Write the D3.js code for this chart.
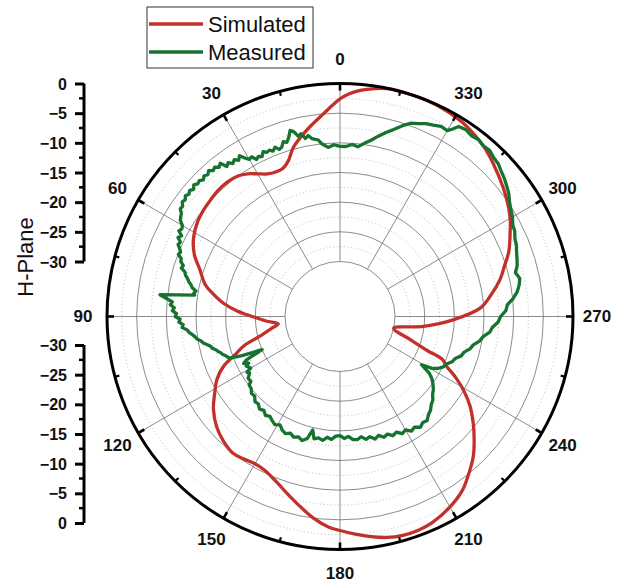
<!DOCTYPE html>
<html>
<head>
<meta charset="utf-8">
<script src="https://cdn.jsdelivr.net/npm/d3@7"></script>
<style>
  html, body { margin: 0; padding: 0; background: #ffffff; }
  svg { display: block; font-family: Arial, "Liberation Sans", Helvetica, sans-serif; }
</style>
</head>
<body>
<svg id="chart" width="623" height="583"></svg>
<script>
// ---------------- DATA ----------------
const angleTicks = [0, 30, 60, 90, 120, 150, 180, 210, 240, 270, 300, 330];
const dbTicks = [0, -5, -10, -15, -20, -25, -30];
const seriesNames = ["Simulated", "Measured"];

// Simulated: [angle (deg), gain (dB)]
const simulated = [
  [0,-2.6],[4.7,-5.0],[10.2,-7.4],[15.4,-9.7],[18.3,-11.6],[21,-12.5],[24,-12.6],[27,-12.3],
  [30,-11.5],[33,-10.6],[36,-10.0],[40,-9.7],[44,-9.7],[48,-9.9],[52,-10.1],[56,-10.4],
  [62,-11.3],[67,-12.6],[71.6,-14.4],[76.6,-15.9],[80,-17.6],[83.5,-19.5],[87,-22.0],[90,-24.5],
  [93.5,-26.8],[96.8,-28.8],[100,-27.5],[104,-25.2],[107,-22.3],[109.5,-20.8],[113.2,-17.9],
  [117,-16.0],[121.5,-14.5],[126,-12.9],[131.7,-11.4],[137,-10.5],[142,-10.0],[146,-10.3],
  [150,-10.6],[154,-10.4],[159,-9.4],[163.5,-8.1],[168,-6.6],[172.5,-5.0],[177,-3.7],[180,-3.2],
  [184,-2.5],[188,-1.8],[192,-1.2],[196,-0.9],[200,-0.9],[204,-1.2],[209.5,-2.1],[215,-3.4],
  [219,-4.9],[223.6,-6.7],[227.5,-8.6],[231.3,-10.5],[235.5,-12.7],[239.3,-15.1],[242.3,-17.3],
  [244.9,-19.4],[247.3,-20.6],[248.7,-23.5],[251.8,-26.8],[257.6,-30.0],[263.2,-25.1],
  [268.3,-20.2],[273.4,-15.6],[278,-13.6],[283,-11.6],[287,-10.3],[291,-8.8],[295.9,-7.4],
  [299.5,-6.3],[303,-5.4],[308.4,-4.2],[314.9,-2.8],[319.5,-1.8],[323.9,-1.1],[327.8,-0.6],
  [331.7,-0.3],[335.5,-0.1],[339.2,0],[343.4,0],[347.6,0],[351.3,-0.4],[354.9,-1.0],[357.6,-1.7]
];

// Measured: [angle (deg), gain (dB)]
const measured = [
  [0,-10.6],[2,-10.3],[4,-10.7],[6,-10.0],[7,-9.3],[9,-8.9],[10,-8.3],[11,-8.7],[12,-7.8],
  [13,-8.1],[14,-7.2],[15,-6.8],[16,-7.9],[17,-8.6],[18,-8.3],[19,-9.1],[20,-9.3],[21,-8.7],
  [22,-9.2],[23,-8.8],[24,-9.0],[25,-8.6],[26,-9.3],[27,-9.0],[28,-9.3],[29,-8.5],[30,-8.7],
  [31,-8.1],[32,-7.3],[33,-7.9],[34,-7.4],[35,-7.8],[36,-7.2],[37,-7.6],[38,-6.5],[39,-6.9],
  [40,-6.4],[41,-6.7],[42,-6.2],[43,-6.6],[44,-6.3],[45,-6.7],[46,-6.3],[47,-6.5],[48,-6.1],
  [49,-6.6],[50,-6.2],[51,-6.5],[52,-6.2],[53,-6.6],[54,-6.4],[55,-6.9],[56,-6.8],[57,-7.4],
  [58,-7.6],[59,-7.9],[60,-8.6],[61,-8.8],[62,-8.5],[63,-9.3],[64,-8.9],[65,-9.6],[66,-9.4],
  [67,-9.9],[68,-10.3],[69,-10.1],[70,-10.8],[71,-10.9],[72,-11.5],[73,-11.3],[74,-12.1],
  [75,-12.3],[76,-12.8],[77,-13.1],[78,-13.6],[79,-13.9],[80,-14.6],[81,-14.3],[81.6,-14.5],
  [83.1,-8.7],[84,-9.8],[85,-10.9],[86,-10.6],[87,-11.3],[88,-11.0],[89,-11.7],[90,-11.5],
  [91,-12.3],[92,-12.1],[93,-12.8],[94,-12.6],[95,-13.4],[96,-13.7],[97,-14.2],[98,-14.6],
  [99,-14.9],[100,-15.5],[101,-15.8],[102,-16.4],[103,-16.9],[104,-17.1],[105,-17.6],[106,-17.9],
  [107,-18.3],[108,-18.5],[109,-18.9],[110,-19.2],[110.7,-19.4],[111.8,-21.5],[113,-25.0],
  [114.9,-21.9],[116,-21.2],[117,-22.0],[118,-21.4],[120,-21.9],[121,-21.0],[122,-21.3],
  [124,-20.6],[126,-20.7],[127,-20.1],[129,-20.0],[131,-19.5],[133,-19.6],[135,-19.0],
  [137,-19.1],[139,-18.6],[141,-18.9],[143,-18.4],[145,-18.7],[147,-18.3],[149,-18.0],
  [151,-18.4],[153,-17.8],[155,-17.5],[157,-17.9],[159,-17.5],[161,-17.8],[163,-17.4],
  [165,-18.0],[166.5,-19.6],[168,-18.2],[170,-18.5],[172,-18.2],[174,-18.8],[176,-18.5],
  [178,-19.1],[180,-19.2],[182,-18.7],[184,-19.0],[186,-18.4],[188,-18.3],[190,-18.7],
  [192,-18.1],[194,-18.4],[196,-17.8],[198,-18.2],[200,-17.6],[202,-17.9],[204,-17.3],
  [206,-17.6],[208,-16.9],[210,-17.2],[212,-16.5],[214,-16.8],[216,-16.2],[218,-16.6],
  [220,-16.4],[222,-17.0],[224,-17.3],[226,-17.9],[228,-18.2],[230,-18.9],[232,-19.3],
  [234,-19.9],[236,-20.6],[237.5,-21.4],[239.4,-23.3],[240.5,-21.6],[242,-20.6],[244,-19.9],
  [246,-19.6],[248,-18.9],[250,-18.6],[252,-17.8],[254,-17.5],[256,-16.7],[258,-16.3],
  [260,-15.4],[262,-14.9],[264,-13.9],[266,-13.5],[268,-12.6],[270,-12.2],[272,-11.3],
  [274,-11.0],[276,-9.9],[278,-9.1],[280,-8.6],[282,-8.3],[284,-8.8],[286,-8.2],[288,-7.9],
  [290,-7.6],[292,-7.2],[294,-7.0],[296,-6.5],[298,-6.3],[300,-5.7],[302,-5.3],[304,-4.8],
  [306,-4.1],[308,-3.6],[310,-3.1],[312,-2.7],[314,-2.2],[316,-2.0],[318,-1.6],[320,-1.7],
  [322,-1.4],[324,-1.6],[326,-1.3],[328,-1.5],[329,-2.4],[330,-3.1],[332,-3.0],[334,-3.4],
  [336,-3.7],[338,-4.2],[340,-4.6],[342,-5.5],[344,-6.5],[346,-7.3],[348,-8.2],[350,-9.1],
  [352,-9.8],[354,-10.5],[356,-10.2],[358,-10.6]
];

// ---------------- LAYOUT ----------------
const svg = d3.select("#chart");
const cx = 340, cy = 316.5;
const R = 233, R0 = 55;
const red = "#c3302c", green = "#16722f";

const r = d3.scaleLinear().domain([-30, 0]).range([R0, R]).clamp(true);
const rad = a => a * Math.PI / 180;

const g = svg.append("g").attr("transform", `translate(${cx},${cy})`);

// minor dotted rings
const minorRings = d3.range(-27.5, 0, 5);
g.selectAll(".minor-ring").data(minorRings).join("circle")
  .attr("r", d => r(d)).attr("fill", "none")
  .attr("stroke", "#aaa").attr("stroke-width", 0.8).attr("stroke-dasharray", "1,2.5");

// major rings
g.selectAll(".major-ring").data(dbTicks.filter(d => d > -30 && d < 0)).join("circle")
  .attr("r", d => r(d)).attr("fill", "none")
  .attr("stroke", "#6e6e6e").attr("stroke-width", 0.8);
g.append("circle").attr("r", r(-30)).attr("fill", "none")
  .attr("stroke", "#6e6e6e").attr("stroke-width", 0.8);

// spokes
g.selectAll(".spoke").data(angleTicks).join("line")
  .attr("x1", d => -r(-30) * Math.sin(rad(d))).attr("y1", d => -r(-30) * Math.cos(rad(d)))
  .attr("x2", d => -R * Math.sin(rad(d))).attr("y2", d => -R * Math.cos(rad(d)))
  .attr("stroke", "#6e6e6e").attr("stroke-width", 0.8);

// curves
const radial = d3.lineRadial()
  .angle(d => -rad(d[0]))
  .radius(d => r(d[1]));

g.append("path").datum(simulated)
  .attr("d", radial.curve(d3.curveCatmullRomClosed.alpha(0.5)))
  .attr("fill", "none").attr("stroke", red).attr("stroke-width", 3.3)
  .attr("stroke-linejoin", "round");

g.append("path").datum(measured)
  .attr("d", radial.curve(d3.curveLinearClosed))
  .attr("fill", "none").attr("stroke", green).attr("stroke-width", 3.3)
  .attr("stroke-linejoin", "round");

// outer circle
g.append("circle").attr("r", R).attr("fill", "none")
  .attr("stroke", "#000").attr("stroke-width", 3);

// outer ticks (inward)
const majorAng = angleTicks;
const minorAng = angleTicks.map(a => a + 15);
g.selectAll(".otick").data(majorAng).join("line")
  .attr("x1", d => -R * Math.sin(rad(d))).attr("y1", d => -R * Math.cos(rad(d)))
  .attr("x2", d => -(R - 7) * Math.sin(rad(d))).attr("y2", d => -(R - 7) * Math.cos(rad(d)))
  .attr("stroke", "#000").attr("stroke-width", 2.6);
g.selectAll(".mtick").data(minorAng).join("line")
  .attr("x1", d => -R * Math.sin(rad(d))).attr("y1", d => -R * Math.cos(rad(d)))
  .attr("x2", d => -(R - 4.5) * Math.sin(rad(d))).attr("y2", d => -(R - 4.5) * Math.cos(rad(d)))
  .attr("stroke", "#000").attr("stroke-width", 2.2);

// angle labels
g.selectAll(".alabel").data(angleTicks).join("text")
  .attr("x", d => -(R + 24) * Math.sin(rad(d)))
  .attr("y", d => -(R + 24) * Math.cos(rad(d)))
  .attr("text-anchor", "middle").attr("dominant-baseline", "central")
  .attr("font-size", 17).attr("font-weight", "bold").attr("fill", "#111")
  .text(d => d);

// ---------------- LEFT RADIAL AXES ----------------
const axX = 84;
const span = R - R0;
const topY0 = cy - R;           // 0 dB
const botY30 = 345;             // -30 dB of bottom axis
const yTop = d3.scaleLinear().domain([0, -30]).range([topY0, topY0 + span]);
const yBot = d3.scaleLinear().domain([-30, 0]).range([botY30, botY30 + span]);

function drawAxis(scale) {
  const ag = svg.append("g").attr("transform", `translate(${axX},0)`);
  const axis = d3.axisLeft(scale).tickValues(dbTicks).tickSize(9).tickPadding(8)
    .tickFormat(d3.format("d"));
  ag.call(axis);
  ag.select(".domain").attr("stroke", "#000").attr("stroke-width", 3)
    .attr("d", `M0,${scale.range()[0]}V${scale.range()[1]}`);
  ag.selectAll(".tick line").attr("stroke", "#000").attr("stroke-width", 3);
  ag.selectAll(".tick text").attr("font-size", 16).attr("font-weight", "bold")
    .attr("fill", "#111").attr("font-family", "Arial, 'Liberation Sans', sans-serif")
    .attr("dy", "0.35em");
  const minors = d3.range(-27.5, 0, 5);
  ag.selectAll(".minor").data(minors).join("line")
    .attr("x1", 0).attr("x2", -5)
    .attr("y1", d => scale(d)).attr("y2", d => scale(d))
    .attr("stroke", "#000").attr("stroke-width", 2.5);
}
drawAxis(yTop);
drawAxis(yBot);

svg.append("text")
  .attr("transform", `translate(33,257) rotate(-90)`)
  .attr("text-anchor", "middle")
  .attr("font-size", 22).attr("fill", "#111")
  .text("H-Plane");

// ---------------- LEGEND ----------------
const legend = svg.append("g");
legend.append("rect").attr("x", 147).attr("y", 7).attr("width", 166).attr("height", 61)
  .attr("fill", "#fff").attr("stroke", "#333").attr("stroke-width", 1);
const legColors = [red, green];
seriesNames.forEach((name, i) => {
  const y = 24 + i * 28;
  legend.append("line").attr("x1", 149).attr("x2", 203).attr("y1", y).attr("y2", y)
    .attr("stroke", legColors[i]).attr("stroke-width", 3.5);
  legend.append("text").attr("x", 208).attr("y", y).attr("dominant-baseline", "central")
    .attr("font-size", 22).attr("fill", "#111").text(name);
});
</script>
</body>
</html>
